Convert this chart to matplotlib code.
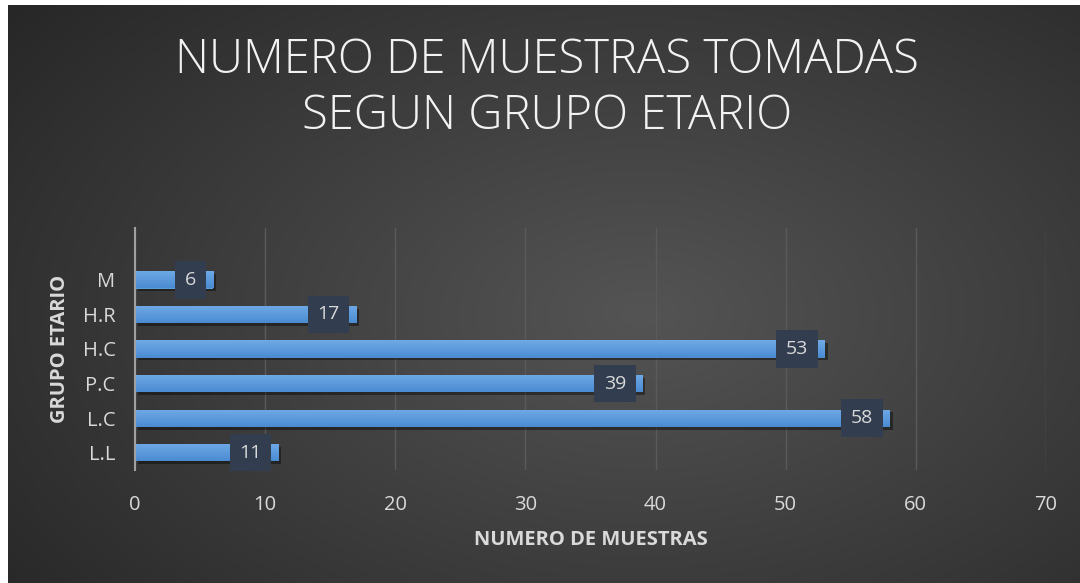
import numpy as np
import matplotlib
matplotlib.use('Agg')
import matplotlib.pyplot as plt
import matplotlib.patheffects as pe
from matplotlib.colors import LinearSegmentedColormap

# data
categories = ['L.L', 'L.C', 'P.C', 'H.C', 'H.R', 'M']
values = [11, 58, 39, 53, 17, 6]
x_ticks = [0, 10, 20, 30, 40, 50, 60, 70]

title = 'NUMERO DE MUESTRAS TOMADAS\nSEGUN GRUPO ETARIO'
xlabel = 'NUMERO DE MUESTRAS'
ylabel = 'GRUPO ETARIO'

plt.rcParams['font.family'] = ['Open Sans', 'DejaVu Sans']
txt_color = '#d9d9d9'

W, H = 1080, 583
fig = plt.figure(figsize=(W / 100, H / 100), dpi=100)
fig.patch.set_facecolor('white')

# dark radial gradient background
bg = fig.add_axes([8 / W, 0, (W - 8) / W, (H - 5) / H])
yy, xx = np.mgrid[0:300, 0:560]
r = np.sqrt(((xx - 330) / 430.0) ** 2 + ((yy - 160) / 260.0) ** 2)
r = np.clip(r, 0, 1)
g = 0.33 - 0.18 * r
img = np.dstack([g, g, g])
bg.imshow(img, aspect='auto', extent=[0, 1, 0, 1], origin='upper')
bg.set_axis_off()

ax = fig.add_axes([135 / W, (H - 470) / H, (1046 - 135) / W, (470 - 228) / H])
ax.patch.set_alpha(0)

pos = np.arange(len(categories))
bars = ax.barh(pos, values, height=0.5, color='#5b9bd8', zorder=3)
bar_cmap = LinearSegmentedColormap.from_list('bar', ['#4a8bd2', '#6faae6'])
grad = np.linspace(0, 1, 50).reshape(-1, 1)
for b in bars:
    b.set_path_effects([pe.SimplePatchShadow(offset=(2, -2), shadow_rgbFace='black', alpha=0.4),
                        pe.Normal()])
    x0, y0 = b.get_x(), b.get_y()
    im = ax.imshow(grad, cmap=bar_cmap, aspect='auto', origin='lower', zorder=3.5,
                   extent=[x0, x0 + b.get_width(), y0, y0 + b.get_height()])
    im.set_clip_path(b)

for p, v in zip(pos, values):
    ax.annotate(str(v), xy=(v, p), xytext=(-12, 0), textcoords='offset points',
                ha='right', va='center', fontsize=14, color=txt_color, zorder=5,
                bbox=dict(boxstyle='square,pad=0.5', fc='#323d50', ec='none'))

ax.set_xlim(0, 70)
ax.set_ylim(-0.5, 6.5)
ax.set_xticks(x_ticks)
ax.set_yticks(pos)
ax.set_yticklabels(categories)
ax.grid(axis='x', color='#5a5a5a', lw=1, zorder=0)
ax.tick_params(axis='both', length=0, colors=txt_color, labelsize=14.5)
ax.tick_params(axis='x', pad=18)
ax.tick_params(axis='y', pad=14)
for s in ['top', 'right', 'bottom']:
    ax.spines[s].set_visible(False)
ax.spines['left'].set_color('#a0a0a0')
ax.spines['left'].set_linewidth(1.5)
ax.spines['left'].set_zorder(4)

ax.set_xlabel(xlabel, fontsize=14.5, fontweight='bold', color=txt_color, labelpad=11)
ax.set_ylabel(ylabel, fontsize=14.5, fontweight='bold', color=txt_color, labelpad=9)

fig.text(547 / W, 1 - 89 / H, title, ha='center', va='center', fontsize=34,
         fontweight='light', color='#f2f2f2', linespacing=1.2)

fig.savefig('out.png', dpi=100)
